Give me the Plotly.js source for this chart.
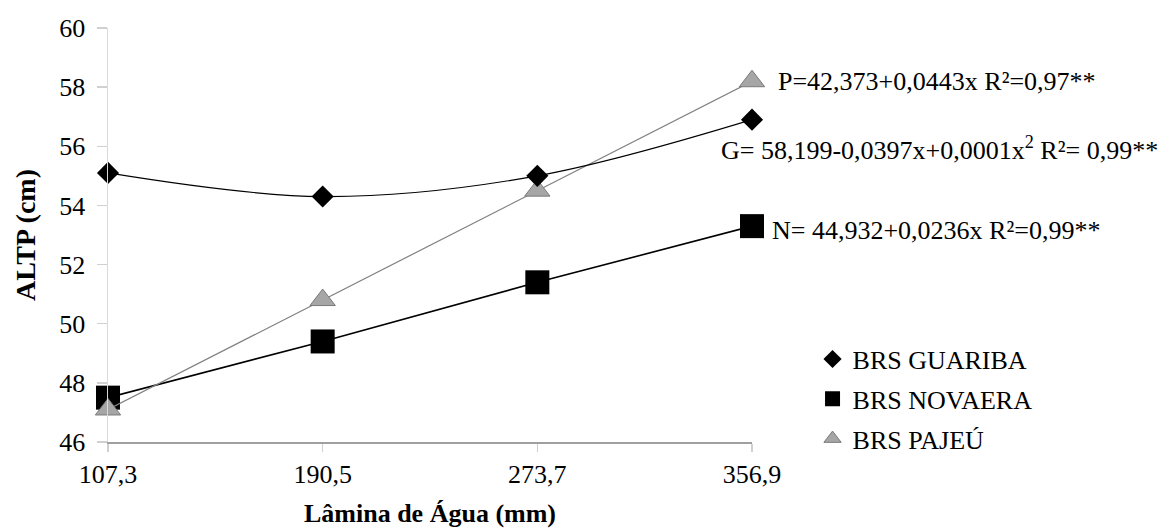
<!DOCTYPE html>
<html>
<head>
<meta charset="utf-8">
<script src="https://cdn.plot.ly/plotly-3.0.1.min.js"></script>
<style>html,body{margin:0;padding:0;background:#fff;}#chart{width:1170px;height:528px;}</style>
</head>
<body>
<div id="chart"></div>
<script>
// Data
var laminas = [107.3, 190.5, 273.7, 356.9];
var laminaLabels = ['107,3', '190,5', '273,7', '356,9'];
var guariba = [55.1, 54.3, 55.0, 56.9];
var novaera = [47.5, 49.4, 51.4, 53.3];
var pajeu = [47.1, 50.8, 54.5, 58.2];
var seriesNames = ['BRS GUARIBA', 'BRS NOVAERA', 'BRS PAJEÚ'];
var equations = [
  'P=42,373+0,0443x R²=0,97**',
  'G= 58,199-0,0397x+0,0001x<sup>2</sup> R²= 0,99**',
  'N= 44,932+0,0236x R²=0,99**'
];

var serif = '"Liberation Serif", "Times New Roman", serif';
var triFill = '#a6a6a6', triLine = '#7a7a7a';

var traces = [
  {x: laminas, y: novaera, mode: 'lines+markers', showlegend: false, hoverinfo: 'skip', cliponaxis: false,
   line: {color: '#000', width: 1.6},
   marker: {symbol: 'square', size: 24, color: '#000'}},
  {x: laminas, y: pajeu, mode: 'lines+markers', showlegend: false, hoverinfo: 'skip', cliponaxis: false,
   line: {color: '#808080', width: 1.2},
   marker: {symbol: 'triangle-up', size: 22, color: triFill, line: {color: triLine, width: 1}}},
  {x: laminas, y: guariba, mode: 'lines+markers', showlegend: false, hoverinfo: 'skip', cliponaxis: false,
   line: {color: '#000', width: 1.2, shape: 'spline', smoothing: 1},
   marker: {symbol: 'diamond', size: 17, color: '#000'}},
  // legend entries (markers only)
  {x: [null], y: [null], mode: 'markers', name: seriesNames[0], legendgroup: 'g',
   marker: {symbol: 'diamond', size: 14, color: '#000'}},
  {x: [null], y: [null], mode: 'markers', name: seriesNames[1], legendgroup: 'n',
   marker: {symbol: 'square', size: 15, color: '#000'}},
  {x: [null], y: [null], mode: 'markers', name: seriesNames[2], legendgroup: 'p',
   marker: {symbol: 'triangle-up', size: 15, color: triFill, line: {color: triLine, width: 1}}}
];

var layout = {
  width: 1170, height: 528,
  margin: {l: 108, r: 418, t: 28, b: 86},
  paper_bgcolor: '#fff', plot_bgcolor: '#fff',
  font: {family: serif, size: 26, color: '#000'},
  showlegend: true,
  legend: {x: 1.094, xanchor: 'left', y: 0.257, yanchor: 'top',
           font: {family: serif, size: 26, color: '#000'},
           traceorder: 'grouped', tracegroupgap: 3, itemwidth: 30, bgcolor: 'rgba(0,0,0,0)'},
  xaxis: {
    range: [107.3, 356.9], tickmode: 'array', tickvals: laminas, ticktext: laminaLabels,
    showgrid: false, zeroline: false, showline: true, linecolor: '#a0a0a0', linewidth: 1.5,
    ticks: 'outside', ticklen: 8, tickcolor: '#d0d0d0', tickwidth: 1.5,
    tickfont: {family: serif, size: 26, color: '#000'},
    title: {text: '<b>Lâmina de Água (mm)</b>', font: {family: serif, size: 26, color: '#000'}, standoff: 28}
  },
  yaxis: {
    range: [46, 60], tickmode: 'linear', tick0: 46, dtick: 2,
    showgrid: false, zeroline: false, showline: true, linecolor: '#d9d9d9', linewidth: 1.5,
    ticks: 'outside', ticklen: 10, tickcolor: '#d0d0d0', tickwidth: 1.5, ticklabelstandoff: 6,
    tickfont: {family: serif, size: 26, color: '#000'},
    title: {text: '<b>ALTP (cm)</b>', font: {family: serif, size: 28, color: '#000'}, standoff: 15}
  },
  annotations: [
    {xref: 'paper', yref: 'paper', x: 1.037, y: 0.8696, xanchor: 'left', yanchor: 'middle',
     text: equations[0], showarrow: false, font: {family: serif, size: 26, color: '#000'}},
    {xref: 'paper', yref: 'paper', x: 0.948, y: 0.7101, xanchor: 'left', yanchor: 'middle',
     text: equations[1], showarrow: false, font: {family: serif, size: 26, color: '#000'}},
    {xref: 'paper', yref: 'paper', x: 1.028, y: 0.512, xanchor: 'left', yanchor: 'middle',
     text: equations[2], showarrow: false, font: {family: serif, size: 26, color: '#000'}}
  ]
};

Plotly.newPlot('chart', traces, layout, {displayModeBar: false, staticPlot: true});
</script>
</body>
</html>
